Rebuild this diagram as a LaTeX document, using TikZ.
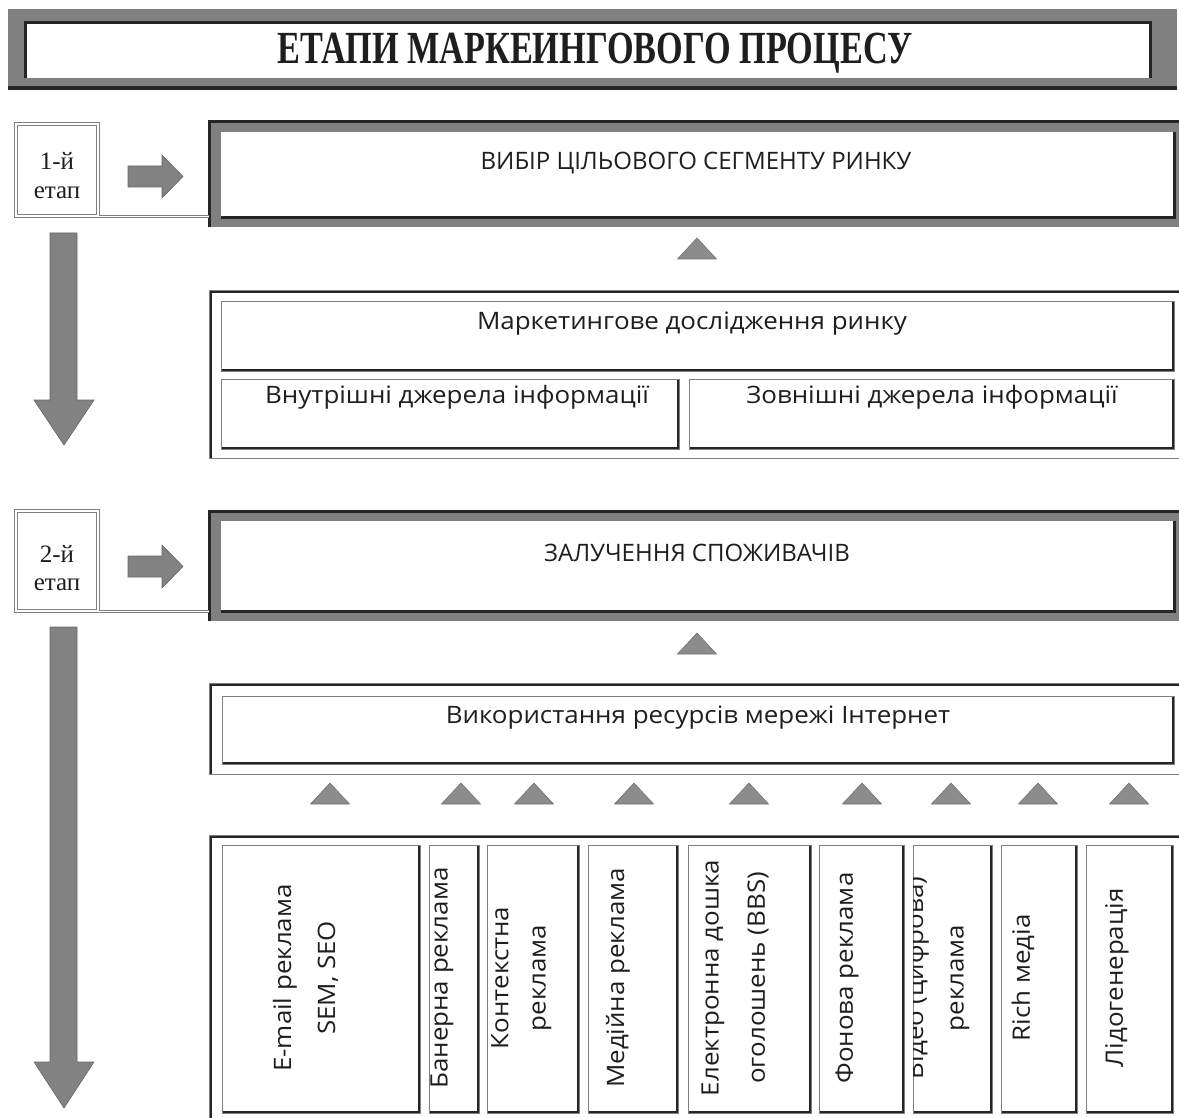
\documentclass[tikz,border=0pt]{standalone}
\usepackage{graphicx}
\usepackage{fontspec}
\setmainfont{Liberation Serif}
\setsansfont{Open Sans}
\newfontfamily\bodyfont{Open Sans}[FakeStretch=1.08]
\usetikzlibrary{positioning}

\definecolor{framegray}{RGB}{128,128,128}
\definecolor{arrowgray}{RGB}{130,130,130}
\definecolor{trigray}{RGB}{140,140,140}
\definecolor{inkgray}{RGB}{30,30,30}

\tikzset{
  capslbl/.style={font=\sffamily\fontsize{24}{28}\selectfont, text=inkgray, inner sep=0pt},
  lbl/.style={font=\bodyfont\fontsize{24}{28}\selectfont, text=inkgray, inner sep=0pt},
  vlbl/.style={lbl, rotate=90},
  stagefont/.style={font=\fontsize{25}{29}\selectfont, text=inkgray, inner sep=0pt, anchor=base},
  stagelab/.style={draw=framegray, line width=1pt, double, double distance=2pt, fill=white, minimum width=82pt, inner sep=0pt},
  bandbox/.style={fill=framegray, anchor=north west, inner sep=0pt},
  whitebox/.style={fill=white, anchor=north west, inner sep=0pt},
  grpbox/.style={anchor=north west, inner sep=0pt, draw=black!50, line width=0.8pt,
    path picture={\draw[line width=5pt, black!85] (path picture bounding box.south west) -- (path picture bounding box.north west) -- (path picture bounding box.north east);}},
  cell/.style={anchor=north west, inner sep=0pt, fill=white, draw=black!50, line width=0.8pt,
    path picture={\draw[line width=4pt, black!85] (path picture bounding box.south west) -- (path picture bounding box.south east) -- (path picture bounding box.north east);}},
  blockarrow/.style={fill=arrowgray, draw=black!60, line width=0.6pt},
  tri/.style={fill=trigray, draw=black!55, line width=0.6pt}
}

\begin{document}
\begin{tikzpicture}[x=1pt,y=1pt,yscale=-1]
\useasboundingbox (0,0) rectangle (1179,1118);

%Shape: Title frame
\node[bandbox, minimum width=1169pt, minimum height=79pt] (titleband) at (8,9) {};
\node[whitebox, minimum width=1125pt, minimum height=55pt] (titlein) at (25,23) {};
\draw[line width=3pt, black!85] (titlein.south west) -- (titlein.north west) -- (titlein.north east) -- (titlein.south east);
\draw[line width=4pt, black!85] (titleband.south west) -- (titleband.south east);
% Text Node
\node[anchor=base, inner sep=0pt, text=inkgray, font=\bfseries\fontsize{46}{50}\selectfont] (ttl) at (595,64) {\scalebox{0.745}[1]{ЕТАПИ МАРКЕИНГОВОГО ПРОЦЕСУ}};

%Shape: stage 1
\node[stagelab, minimum height=92pt] (lab1) at (57,170) {};
\node[stagefont] (lab1a) at (57,170) {1-й};
\node[stagefont] (lab1b) at (57,199) {етап};
\node[bandbox, minimum width=976pt, minimum height=105pt] (sel) at (209,122) {};
\node[whitebox, minimum width=953pt, minimum height=85pt] (selin) at (221,132) {};
\draw[line width=3pt, black!85] (sel.south west) -- (sel.north west) -- (sel.north east);
\draw[line width=3pt, black!85] (selin.south west) -- (selin.south east) -- (selin.north east);
\draw[framegray, line width=0.8pt, double, double distance=1.5pt] (lab1.south east) -- (lab1.south east -| sel.west);
% Text Node
\node[capslbl, anchor=base] (seltxt) at (696,170) {ВИБІР ЦІЛЬОВОГО СЕГМЕНТУ РИНКУ};

%Shape: Block arrows
\draw[blockarrow] (128,166) -- (162,166) -- (162,155) -- (183,176.5) -- (162,198) -- (162,187) -- (128,187) -- cycle;
\draw[blockarrow] (50,233) -- (77,233) -- (77,400) -- (94,400) -- (64,445) -- (34,400) -- (50,400) -- cycle;

%Shape: research group
\node[grpbox, minimum width=976pt, minimum height=168pt] (grp1) at (209,290) {};
\node[cell, minimum width=953pt, minimum height=70pt] (mk) at (221,301) {};
\node[cell, minimum width=458pt, minimum height=70pt] (inn) at (221,379) {};
\node[cell, minimum width=485pt, minimum height=70pt] (ext) at (689,379) {};
% Text Node
\node[lbl, anchor=base] (mktxt) at (692,330) {Маркетингове дослідження ринку};
\node[lbl, anchor=base] (inntxt) at (457,403) {Внутрішні джерела інформації};
\node[lbl, anchor=base] (exttxt) at (932,403) {Зовнішні джерела інформації};

%Shape: stage 2
\node[stagelab, minimum height=100pt] (lab2) at (57,561) {};
\node[stagefont] (lab2a) at (57,562) {2-й};
\node[stagefont] (lab2b) at (57,590) {етап};
\node[bandbox, minimum width=976pt, minimum height=110pt] (att) at (209,511) {};
\node[whitebox, minimum width=953pt, minimum height=90pt] (attin) at (221,521) {};
\draw[line width=3pt, black!85] (att.south west) -- (att.north west) -- (att.north east);
\draw[line width=3pt, black!85] (attin.south west) -- (attin.south east) -- (attin.north east);
\draw[framegray, line width=0.8pt, double, double distance=1.5pt] (lab2.south east) -- (lab2.south east -| att.west);
% Text Node
\node[capslbl, anchor=base] (atttxt) at (697,561) {ЗАЛУЧЕННЯ СПОЖИВАЧІВ};

\draw[blockarrow] (128,556) -- (162,556) -- (162,545) -- (183,566.5) -- (162,588) -- (162,577) -- (128,577) -- cycle;
\draw[blockarrow] (50,627) -- (77,627) -- (77,1062) -- (94,1062) -- (64,1108) -- (34,1062) -- (50,1062) -- cycle;

%Shape: internet group
\node[grpbox, minimum width=976pt, minimum height=91pt] (grp2) at (209,683) {};
\node[cell, minimum width=952pt, minimum height=68pt] (web) at (222,696) {};
% Text Node
\node[lbl, anchor=base] (webtxt) at (698,723) {Використання ресурсів мережі Інтернет};

%Shape: Triangles
\foreach \x/\y in {697/238, 697/633, 330/783, 461/783, 534/783, 634/783, 749/783, 862/783, 951/783, 1038/783, 1129/783}
  \draw[tri] (\x,\y) -- ++(19.5,21) -- ++(-39,0) -- cycle;

%Shape: tools group
\node[grpbox, minimum width=976pt, minimum height=290pt] (grp3) at (209,835) {};
\node[cell, minimum width=198pt, minimum height=268pt] (ad1) at (222,845) {};
\node[cell, minimum width=50pt, minimum height=268pt] (ad2) at (429,845) {};
\node[cell, minimum width=92pt, minimum height=268pt] (ad3) at (487,845) {};
\node[cell, minimum width=90pt, minimum height=268pt] (ad4) at (588,845) {};
\node[cell, minimum width=123pt, minimum height=268pt] (ad5) at (688,845) {};
\node[cell, minimum width=85pt, minimum height=268pt] (ad6) at (819,845) {};
\node[cell, minimum width=79pt, minimum height=268pt] (ad7) at (913,845) {};
\node[cell, minimum width=76pt, minimum height=268pt] (ad8) at (1001,845) {};
\node[cell, minimum width=87pt, minimum height=268pt] (ad9) at (1086,845) {};

% Text Node
\node[vlbl] (ad1a) at (285,978) {E-mail реклама};
\node[vlbl] (ad1b) at (328,978) {SEM, SEO};
\node[vlbl] (ad2a) at (442,978) {Банерна реклама};
\node[vlbl] (ad3a) at (500,978) {Контекстна};
\node[vlbl] (ad3b) at (542,978) {реклама};
\node[vlbl] (ad4a) at (618,978) {Медійна реклама};
\node[vlbl] (ad5a) at (713,978) {Електронна дошка};
\node[vlbl] (ad5b) at (758,978) {оголошень (BBS)};
\node[vlbl] (ad6a) at (847,978) {Фонова реклама};
\begin{scope}
\clip (ad7.north west) rectangle (ad7.south east);
\node[vlbl] (ad7a) at (917,978) {Відео (цифрова)};
\end{scope}
\node[vlbl] (ad7b) at (960,978) {реклама};
\node[vlbl] (ad8a) at (1023,978) {Rich медіа};
\node[vlbl] (ad9a) at (1117,978) {Лідогенерація};

\end{tikzpicture}
\end{document}
